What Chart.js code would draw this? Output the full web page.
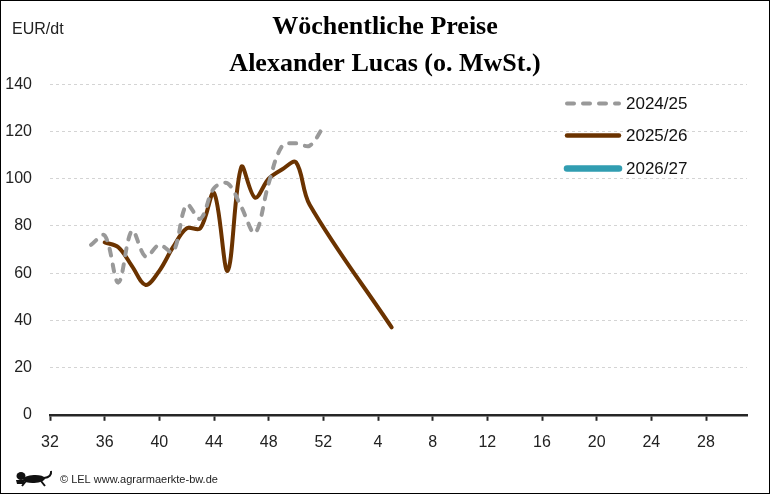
<!DOCTYPE html>
<html lang="de">
<head>
<meta charset="utf-8">
<title>Wöchentliche Preise Alexander Lucas</title>
<script src="https://cdn.jsdelivr.net/npm/chart.js@4.4.1/dist/chart.umd.min.js"></script>
<style>
  body { margin: 0; background: #fff; }
  #rahmen { width: 768px; height: 492px; border: 1px solid #000; }
</style>
</head>
<body>
<div id="rahmen"><canvas id="preisChart" width="768" height="492"></canvas></div>
<script>
// Kalenderwochen und Preise (EUR/dt)
var kw2425 = [35, 36, 37, 38, 39, 40, 41, 42, 43, 44, 45, 46, 47, 48, 49, 50, 51, 52];
var preis2425 = [72, 76, 56, 78, 67, 72, 69, 89, 83, 96, 98, 88, 77, 98, 114, 115, 114, 122];

var kw2526 = [36, 37, 38, 39, 40, 41, 42, 43, 44, 45, 46, 47, 48, 49, 50, 51, 52, 1, 2, 3, 4, 5];
var preis2526 = [73, 71, 63, 55, 61, 71, 79, 79, 94, 61, 105, 92, 100, 104, 107, 89, null, null, null, null, null, 37];

var kw2627 = [];
var preis2627 = [];

var saisons = ['2024/25', '2025/26', '2026/27'];
var yTicks = [0, 20, 40, 60, 80, 100, 120, 140];

// Wochen nach KW 52 laufen auf der Achse weiter (1 -> 53 ...)
function aufAchse(kw) {
    return kw < 32 ? kw + 52 : kw;
}

function punkte(kws, preise) {
    return kws.map(function(kw, i) {
        return { x: aufAchse(kw), y: preise[i] };
    });
}

var schrift = 'Liberation Sans, Arial, sans-serif';

// kleiner Loewe als Logo (grob)
function loewe(ctx, x, y) {
    ctx.save();
    ctx.translate(x, y);
    ctx.fillStyle = '#111';
    ctx.strokeStyle = '#111';
    ctx.beginPath();
    ctx.ellipse(5, 5, 4.5, 4, 0, 0, Math.PI * 2);   // Kopf
    ctx.fill();
    ctx.beginPath();
    ctx.ellipse(18, 8, 11, 4, -0.05, 0, Math.PI * 2); // Rumpf
    ctx.fill();
    ctx.beginPath();
    ctx.moveTo(0, 9); ctx.lineTo(9, 9); ctx.lineTo(8, 13); ctx.lineTo(1, 13);
    ctx.fill();
    ctx.lineWidth = 2;
    ctx.beginPath();
    ctx.moveTo(10, 10); ctx.lineTo(6, 15);  // Vorderbein
    ctx.moveTo(25, 10); ctx.lineTo(29, 15); // Hinterbein
    ctx.moveTo(28, 7); ctx.quadraticCurveTo(36, 6, 35, 0); // Schwanz
    ctx.stroke();
    ctx.restore();
}

// Legende, Einheit und Quelle direkt auf die Zeichenfläche
var beschriftung = {
    id: 'beschriftung',
    afterDraw: function(chart) {
        var ctx = chart.ctx;
        ctx.save();

        ctx.fillStyle = '#222';
        ctx.textBaseline = 'middle';
        ctx.textAlign = 'left';
        ctx.font = '16px ' + schrift;
        ctx.fillText('EUR/dt', 11, 29);

        ctx.font = '11px ' + schrift;
        ctx.fillText('\u00A9 LEL www.agrarmaerkte-bw.de', 59, 479);
        loewe(ctx, 15, 470);

        // Legende
        var legY = [102.5, 134.5, 167.5];
        chart.data.datasets.forEach(function(ds, i) {
            ctx.beginPath();
            ctx.lineCap = 'round';
            ctx.strokeStyle = ds.borderColor;
            ctx.lineWidth = ds.legendeBreite;
            ctx.setLineDash(ds.borderDash || []);
            ctx.moveTo(566, legY[i]);
            ctx.lineTo(618, legY[i]);
            ctx.stroke();
            ctx.setLineDash([]);
            ctx.fillStyle = '#111';
            ctx.font = '17px ' + schrift;
            ctx.fillText(ds.label, 625, legY[i] + 1);
        });
        ctx.restore();
    }
};

var ctx = document.getElementById('preisChart').getContext('2d');
var myChart = new Chart(ctx, {
    type: 'line',
    data: {
        datasets: [
            {
                label: saisons[0],
                data: punkte(kw2425, preis2425),
                borderColor: '#999999',
                borderWidth: 4,
                borderDash: [7, 9],
                borderCapStyle: 'round',
                legendeBreite: 4,
                pointRadius: 0,
                tension: 0.35,
                spanGaps: true
            },
            {
                label: saisons[1],
                data: punkte(kw2526, preis2526),
                borderColor: '#6B3300',
                borderWidth: 4,
                borderCapStyle: 'round',
                legendeBreite: 4.5,
                pointRadius: 0,
                tension: 0.35,
                spanGaps: true
            },
            {
                label: saisons[2],
                data: punkte(kw2627, preis2627),
                borderColor: '#319DB1',
                borderWidth: 6,
                borderCapStyle: 'round',
                legendeBreite: 6.5,
                pointRadius: 0,
                tension: 0.35,
                spanGaps: true
            }
        ]
    },
    options: {
        responsive: false,
        animation: false,
        layout: {
            padding: { left: 5, right: 5, top: 0, bottom: 29 }
        },
        plugins: {
            legend: { display: false },
            tooltip: { enabled: false },
            title: {
                display: true,
                text: ['Wöchentliche Preise', 'Alexander Lucas (o. MwSt.)'],
                color: '#000',
                font: { family: 'Liberation Serif, Times New Roman, serif', size: 26, weight: 'bold', lineHeight: 1.41 },
                padding: { top: 8, bottom: 2 }
            }
        },
        scales: {
            x: {
                type: 'linear',
                min: 32,
                max: 83,
                grid: {
                    display: true,
                    drawOnChartArea: false,
                    drawTicks: true,
                    tickLength: 6,
                    tickColor: '#262626',
                    tickWidth: 2
                },
                border: { display: true, color: '#262626', width: 2.5 },
                ticks: {
                    stepSize: 4,
                    includeBounds: false,
                    autoSkip: false,
                    maxRotation: 0,
                    padding: 12,
                    color: '#222',
                    font: { family: schrift, size: 16 },
                    callback: function(v) {
                        return v > 52 ? v - 52 : v;
                    }
                }
            },
            y: {
                min: yTicks[0],
                max: yTicks[yTicks.length - 1],
                afterFit: function(scale) { scale.width = 44; },
                grid: {
                    color: '#d4d4d4',
                    lineWidth: 1,
                    drawTicks: false
                },
                border: { display: false, dash: [3, 3] },
                ticks: {
                    stepSize: 20,
                    padding: 18,
                    color: '#222',
                    font: { family: schrift, size: 16 }
                }
            },
            // leerer Rand rechts, damit der Titel mittig sitzt
            rechts: {
                type: 'linear',
                position: 'right',
                afterFit: function(scale) { scale.width = 17; },
                grid: { display: false },
                border: { display: false },
                ticks: { display: false }
            }
        }
    },
    plugins: [beschriftung]
});
</script>
</body>
</html>
